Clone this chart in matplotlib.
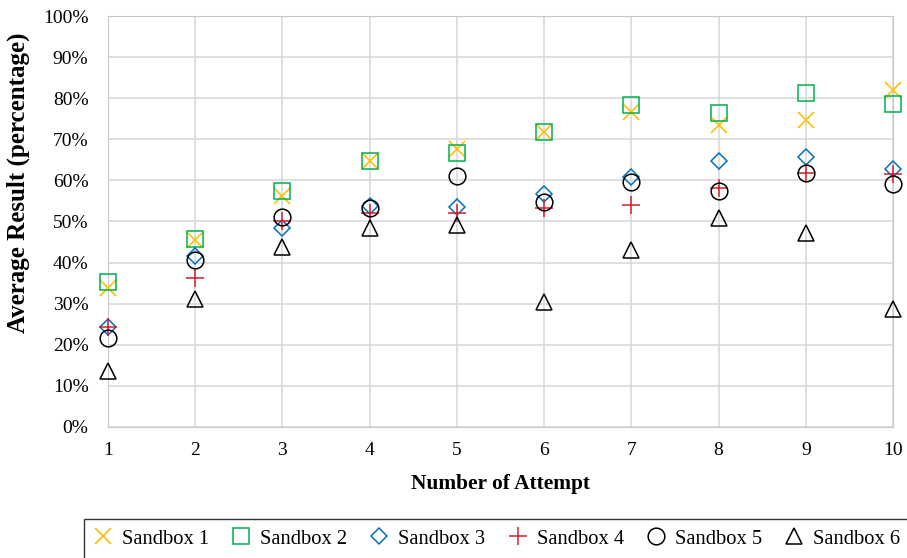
import numpy as np
import matplotlib
matplotlib.use("Agg")
import matplotlib.pyplot as plt
from matplotlib.ticker import PercentFormatter

plt.rcParams['font.family'] = ['Liberation Serif', 'DejaVu Serif']

# data (fraction of 1)
attempts = [1, 2, 3, 4, 5, 6, 7, 8, 9, 10]
sandbox1 = [0.337, 0.455, 0.562, 0.648, 0.676, 0.717, 0.767, 0.735, 0.747, 0.821]
sandbox2 = [0.353, 0.457, 0.574, 0.648, 0.666, 0.717, 0.783, 0.765, 0.812, 0.785]
sandbox3 = [0.243, 0.416, 0.483, 0.538, 0.534, 0.566, 0.607, 0.646, 0.656, 0.628]
sandbox4 = [0.244, 0.362, 0.500, 0.520, 0.520, 0.532, 0.539, 0.581, 0.619, 0.615]
sandbox5 = [0.216, 0.406, 0.512, 0.532, 0.611, 0.548, 0.597, 0.575, 0.619, 0.590]
sandbox6 = [0.135, 0.311, 0.439, 0.483, 0.491, 0.305, 0.431, 0.508, 0.471, 0.286]
names = ['Sandbox 1', 'Sandbox 2', 'Sandbox 3', 'Sandbox 4', 'Sandbox 5', 'Sandbox 6']

fig = plt.figure(figsize=(9.07, 5.58), dpi=100)
ax = fig.add_axes([0.119, 0.235, 0.8656, 0.7363])

kw = dict(ls='none', clip_on=False, zorder=3)
ax.plot(attempts, sandbox1, 'x', color='#FFC000', ms=12, mew=1.2, label=names[0], **kw)
ax.plot(attempts, sandbox2, 's', mfc='none', mec='#00B050', ms=12, mew=1.1, label=names[1], **kw)
ax.plot(attempts, sandbox3, 'D', mfc='none', mec='#0070C0', ms=8.5, mew=1.1, label=names[2], **kw)
ax.plot(attempts, sandbox4, '+', color='#D0202E', ms=13, mew=1.1, label=names[3], **kw)
ax.plot(attempts, sandbox5, 'o', mfc='none', mec='black', ms=12, mew=1.1, label=names[4], **kw)
ax.plot(attempts, sandbox6, '^', mfc='none', mec='black', ms=12, mew=1.1, label=names[5], **kw)

ax.set_xlim(1, 10)
ax.set_ylim(0, 1)
ax.set_xticks(attempts)
ax.set_yticks(np.arange(0, 1.01, 0.1))
ax.yaxis.set_major_formatter(PercentFormatter(1.0, decimals=0))
ax.tick_params(axis='both', length=0, labelsize=14)
ax.tick_params(axis='y', pad=14)
ax.tick_params(axis='x', pad=11)
ax.grid(True, color='#D9D9D9', lw=1.2)
ax.set_axisbelow(True)
for s in ax.spines.values():
    s.set_color('#C8C8C8')

ax.set_xlabel('Number of Attempt', fontsize=15.4, fontweight='bold')
ax.xaxis.set_label_coords(0.5, -0.114)
ax.set_ylabel('Average Result (percentage)', fontsize=18, fontweight='bold')
ax.yaxis.set_label_coords(-0.099, 0.595)

leg = fig.legend(loc='upper left', bbox_to_anchor=(0.0926, 0.0699), ncol=6, fontsize=14.8,
                 frameon=True, fancybox=False, edgecolor='black', handlelength=0.87,
                 handletextpad=0.49, columnspacing=1.12, borderpad=0.5, borderaxespad=0)
leg.get_frame().set_linewidth(1.0)

fig.savefig('out.png', dpi=100)
